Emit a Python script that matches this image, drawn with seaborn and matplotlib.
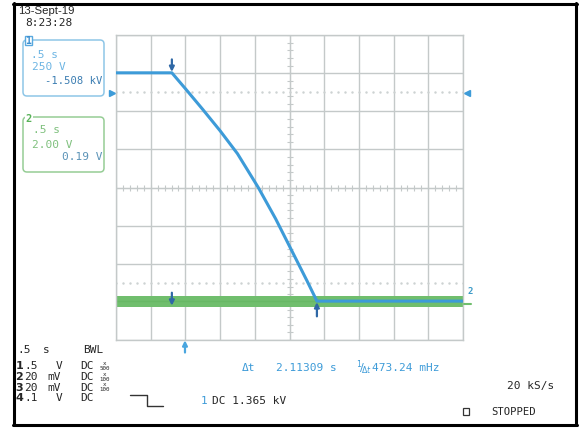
import numpy as np
import pandas as pd
import matplotlib
matplotlib.use("Agg")
import matplotlib.pyplot as plt
import seaborn as sns
from matplotlib.patches import FancyBboxPatch, Rectangle
from matplotlib.lines import Line2D
from matplotlib.transforms import IdentityTransform

# ---------------- data ----------------
time_per_div = 0.5            # s/div
ch1_volts_per_div = 250.0     # V/div
ch2_volts_per_div = 2.0       # V/div
n_xdiv, n_ydiv = 10, 8

ch1_time_s = [0.0, 0.805, 1.0, 1.25, 1.5, 1.75, 2.05, 2.3, 2.55, 2.75, 2.895, 5.0]
ch1_volts = [752, 752, 648, 512, 372, 222, 0, -205, -430, -610, -745, -745]

ch2_time_s = [0.0, 5.0]
ch2_mid_V = [-5.98, -5.98]
ch2_low_V = [-6.28, -6.28]
ch2_high_V = [-5.70, -5.70]

cursor_times = [0.805, 2.895]
trigger_time = 0.994
trigger_level_V = 620

# ---------------- figure ----------------
W, H = 579, 428
sns.set_style("white")
plt.rcParams['font.family'] = ['DejaVu Sans Mono', 'DejaVu Sans']
fig = plt.figure(figsize=(W / 100, H / 100), dpi=100)
fig.patch.set_facecolor('white')

BLUE = '#3d9bd8'
DBLUE = '#2f68a6'
GREEN = '#70be6d'
GRID = '#c4c9c9'
TXT = '#262626'
ID = IdentityTransform()

def P(x, y):
    return x, H - y

ax = fig.add_axes([116 / W, 1 - 340 / H, 347 / W, 305 / H])
xmax = n_xdiv * time_per_div
ymax = n_ydiv / 2 * ch1_volts_per_div
ax.set_xlim(0, xmax)
ax.set_ylim(-ymax, ymax)
ax.set_xticks(np.arange(0, n_xdiv + 1) * time_per_div)
ax.set_yticks(np.arange(-n_ydiv // 2, n_ydiv // 2 + 1) * ch1_volts_per_div)
ax.tick_params(length=0, labelbottom=False, labelleft=False)
ax.grid(True, color=GRID, lw=1.0)
for s in ax.spines.values():
    s.set_color(GRID)
    s.set_linewidth(1.0)
ax.set_facecolor('white')

# center lines with minor ticks
ax.axhline(0, color=GRID, lw=0.8, zorder=1)
ax.axvline(xmax / 2, color=GRID, lw=0.8, zorder=1)
minor_x = np.arange(0, n_xdiv * 5 + 1) * time_per_div / 5
minor_y = np.arange(-n_ydiv * 5 // 2, n_ydiv * 5 // 2 + 1) * ch1_volts_per_div / 5
ax.plot(minor_x, np.zeros_like(minor_x), ls='none', marker='|', ms=4.5, mew=0.8, color=GRID, zorder=1)
ax.plot(np.full_like(minor_y, xmax / 2), minor_y, ls='none', marker='_', ms=4.5, mew=0.8, color=GRID, zorder=1)
for lev in (2.5 * ch1_volts_per_div, -2.5 * ch1_volts_per_div):
    ax.plot(minor_x, np.full_like(minor_x, lev), ls='none', marker='.', ms=1.5, color='#cdd2d2', zorder=1)

# channel 2 (green, noisy band)
scale2 = ch1_volts_per_div / ch2_volts_per_div
ax.fill_between(ch2_time_s, np.array(ch2_low_V) * scale2, np.array(ch2_high_V) * scale2,
                color=GREEN, lw=0, zorder=2)
df2 = pd.DataFrame({'t': ch2_time_s, 'v': np.array(ch2_mid_V) * scale2})
sns.lineplot(data=df2, x='t', y='v', ax=ax, color='#68b865', lw=1.0, estimator=None, zorder=2)

# channel 1 (blue)
df1 = pd.DataFrame({'t': ch1_time_s, 'v': ch1_volts})
sns.lineplot(data=df1, x='t', y='v', ax=ax, color=BLUE, lw=2.2, estimator=None, sort=False, zorder=3)
ax.set_xlabel('')
ax.set_ylabel('')

# cursor arrows
ap = dict(arrowstyle='-|>', color=DBLUE, lw=1.6, mutation_scale=7, shrinkA=0, shrinkB=0)
ax.annotate('', xy=(cursor_times[0], 758), xytext=(cursor_times[0], 840), arrowprops=ap, zorder=5)
ax.annotate('', xy=(cursor_times[0], -775), xytext=(cursor_times[0], -690), arrowprops=ap, zorder=5)
ax.annotate('', xy=(cursor_times[1], -752), xytext=(cursor_times[1], -845), arrowprops=ap, zorder=5)
ap2 = dict(arrowstyle='-|>', color='#4aa6df', lw=1.6, mutation_scale=7, shrinkA=0, shrinkB=0)
ax.annotate('', xy=(trigger_time, -1002), xytext=(trigger_time, -1082), arrowprops=ap2,
            annotation_clip=False)
# trigger level markers
ax.plot([-0.06], [trigger_level_V], marker='>', ms=4, color=BLUE, clip_on=False)
ax.plot([xmax + 0.06], [trigger_level_V], marker='<', ms=4, color=BLUE, clip_on=False)

# ---------------- frame ----------------
fig.add_artist(Line2D([14, 14], [H - 3, H - 425], color='black', lw=2.2, transform=ID))
fig.add_artist(Line2D([13, 577], [H - 3.5, H - 3.5], color='black', lw=2.2, transform=ID))
fig.add_artist(Line2D([576, 576], [H - 3, H - 425], color='black', lw=2.2, transform=ID))
fig.add_artist(Line2D([13, 577], [H - 424.5, H - 424.5], color='black', lw=2.2, transform=ID))

def T(x, y, s, color=TXT, size=8, ha='left', family=None, weight='normal'):
    kw = dict(color=color, fontsize=size, ha=ha, va='center', transform=ID, weight=weight)
    if family:
        kw['family'] = family
    fig.text(*P(x, y), s, **kw)

# date/time
T(18, 10.5, '13-Sept-19', size=8.2, family=['Liberation Sans'])
T(25, 23.5, '8:23:28', size=8)

# channel boxes
b1 = FancyBboxPatch(P(23, 96), 81, 56, boxstyle='round,pad=0,rounding_size=4',
                    fc='white', ec='#8ec6e7', lw=1.1, transform=ID)
fig.add_artist(b1)
fig.add_artist(Rectangle(P(25, 45), 7, 9, fc='white', ec='#59a9df', lw=1.0, transform=ID))
T(28.5, 40.5, '1', color='#3d8fd0', size=7, ha='center', weight='bold')
T(31, 55, '.5 s', color='#6db5e3', size=8)
T(32, 67.5, '250 V', color='#6db5e3', size=8)
T(102, 81.5, '-1.508 kV', color='#3b7db2', size=7.6, ha='right')

b2 = FancyBboxPatch(P(23, 172), 81, 55, boxstyle='round,pad=0,rounding_size=4',
                    fc='white', ec='#96cd95', lw=1.1, transform=ID)
fig.add_artist(b2)
fig.text(*P(29, 119), '2', color='#59b259', fontsize=7.5, ha='center', va='center', transform=ID,
         weight='bold', bbox=dict(fc='white', ec='none', pad=0.3))
T(33, 130, '.5 s', color='#7fc07d', size=8)
T(32, 144.5, '2.00 V', color='#7fc07d', size=8)
T(102, 157.5, '0.19 V', color='#5b93b7', size=8, ha='right')

# right-side channel 2 marker
T(467, 292, '2', color='#3d9bc8', size=6.5, weight='bold')
fig.add_artist(Line2D([464, 471], [H - 304, H - 304], color=GREEN, lw=1.5, transform=ID))

# bottom status text
T(17, 350, '.5', size=8)
T(43, 350, 's', size=8)
T(83, 350, 'BWL', size=8)
rows = [('1', '.5', 'V', 'x', '500', True), ('2', '20', 'mV', 'x', '100', True),
        ('3', '20', 'mV', 'x', '100', True), ('4', '.1', 'V', '', '', False)]
for i, (n, v, u, xx, r, has) in enumerate(rows):
    y = 366 + i * 10.8
    T(15.5, y, n, size=8, weight='bold', family=['DejaVu Sans'])
    T(24, y, v, size=8)
    T(59 if u == 'V' else 54, y, u, size=8, ha='center')
    T(80, y, 'DC', size=8)
    if has:
        T(104.5, y - 2.6, xx, size=4.2, ha='center')
        T(104.5, y + 2.3, r, size=4.2, ha='center')

# step symbol
fig.add_artist(Line2D([130, 147, 147, 163], [H - 395, H - 395, H - 406, H - 406],
                      color='#333333', lw=1.0, transform=ID))
T(201, 401, '1', color=BLUE, size=8)
T(212, 401, 'DC 1.365 kV', size=8)

T(242, 368, 'Δt', color=BLUE, size=8)
T(276, 368, '2.11309 s', color=BLUE, size=8)
T(356, 368, r'$^{1}\!/\!_{\Delta t}$', color=BLUE, size=8)
T(372, 368, '473.24 mHz', color=BLUE, size=8)

T(507, 386, '20 kS/s', size=8)
fig.add_artist(Rectangle(P(463, 415), 6, 7, fc='white', ec='#333333', lw=0.9, transform=ID))
T(491, 412, 'STOPPED', size=7.6)

fig.savefig('out.png', dpi=100, facecolor='white')
